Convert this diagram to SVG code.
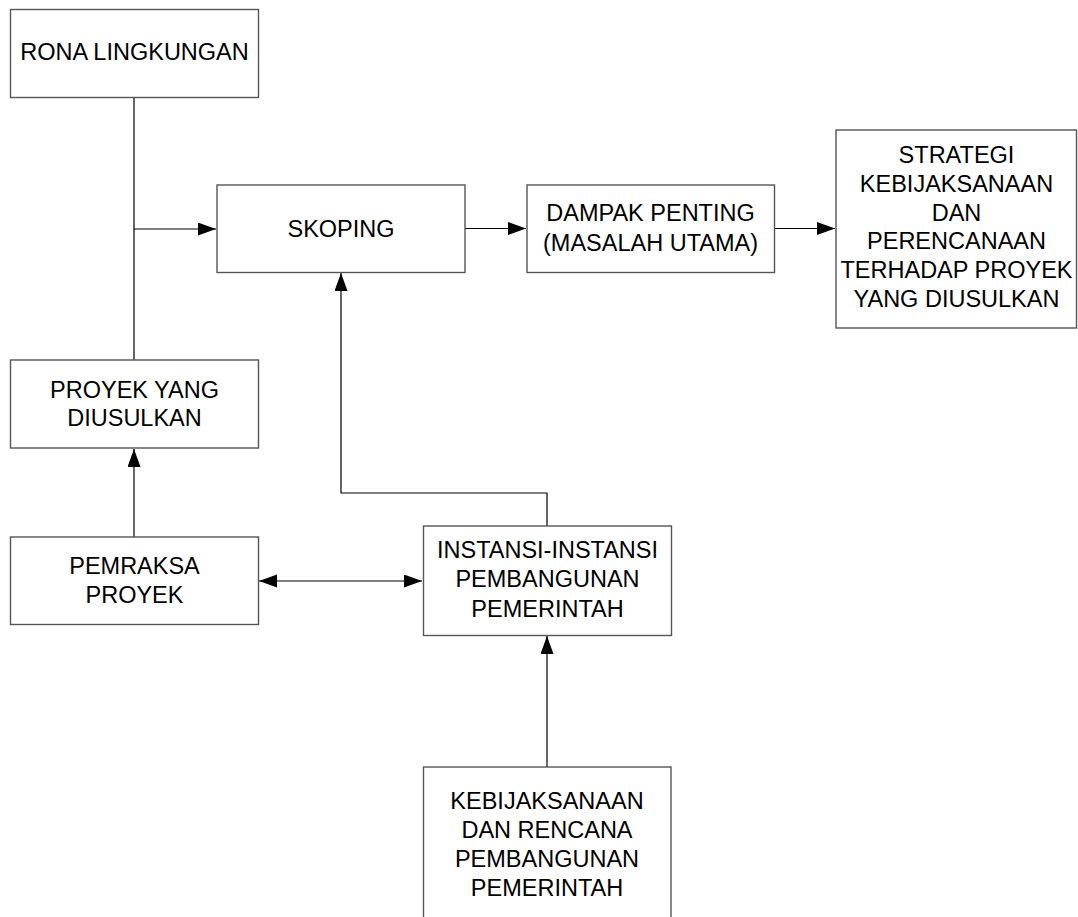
<svg xmlns="http://www.w3.org/2000/svg" width="1078" height="917" viewBox="0 0 1078 917">
<style>
.box{fill:#fff;stroke:#555;stroke-width:1.4}
.lbl{font-family:"Liberation Sans",Arial,sans-serif;font-size:23.5px;fill:#000;text-anchor:middle}
.con{fill:none;stroke:#000;stroke-width:1.2}
</style>
<defs>
<marker id="ah" markerUnits="userSpaceOnUse" markerWidth="19" markerHeight="14" refX="18" refY="6.5" orient="auto-start-reverse" viewBox="0 0 19 14">
<path d="M0,0 L18,6.5 L0,13 z" fill="#000"/>
</marker>
</defs>
<rect width="1078" height="917" fill="#fff"/>
<g id="connectors">
<path class="con" d="M134,97 V360"/>
<path class="con" d="M134,229 H216" marker-end="url(#ah)"/>
<path class="con" d="M465,228.5 H526" marker-end="url(#ah)"/>
<path class="con" d="M774,228.5 H835" marker-end="url(#ah)"/>
<path class="con" d="M134,537 V449" marker-end="url(#ah)"/>
<path class="con" d="M259,581 H422" marker-start="url(#ah)" marker-end="url(#ah)"/>
<path class="con" d="M547,526 V493 H341 V273" marker-end="url(#ah)"/>
<path class="con" d="M547,767 V636" marker-end="url(#ah)"/>
</g>
<g id="rona">
<rect class="box" x="10.5" y="9.5" width="248" height="88"/>
<text class="lbl" x="134.5" y="60">RONA LINGKUNGAN</text>
</g>
<g id="skoping">
<rect class="box" x="217" y="185" width="248" height="87.5"/>
<text class="lbl" x="341" y="237">SKOPING</text>
</g>
<g id="dampak">
<rect class="box" x="527" y="185" width="247.5" height="87.5"/>
<text class="lbl" x="650.5" y="221">DAMPAK PENTING</text>
<text class="lbl" x="650.5" y="250.5">(MASALAH UTAMA)</text>
</g>
<g id="strategi">
<rect class="box" x="836" y="130" width="240.5" height="198"/>
<text class="lbl" x="956.5" y="163">STRATEGI</text>
<text class="lbl" x="956.5" y="191.8">KEBIJAKSANAAN</text>
<text class="lbl" x="956.5" y="220.6">DAN</text>
<text class="lbl" x="956.5" y="249.4">PERENCANAAN</text>
<text class="lbl" x="956.5" y="278.2">TERHADAP PROYEK</text>
<text class="lbl" x="956.5" y="307">YANG DIUSULKAN</text>
</g>
<g id="proyek">
<rect class="box" x="10.5" y="360" width="248" height="88"/>
<text class="lbl" x="134.5" y="397.5">PROYEK YANG</text>
<text class="lbl" x="134.5" y="426">DIUSULKAN</text>
</g>
<g id="pemraksa">
<rect class="box" x="10.5" y="537" width="248" height="87.5"/>
<text class="lbl" x="134.5" y="574">PEMRAKSA</text>
<text class="lbl" x="134.5" y="602.5">PROYEK</text>
</g>
<g id="instansi">
<rect class="box" x="423.5" y="526" width="248" height="109.5"/>
<text class="lbl" x="547.5" y="557.5">INSTANSI-INSTANSI</text>
<text class="lbl" x="547.5" y="587">PEMBANGUNAN</text>
<text class="lbl" x="547.5" y="616.5">PEMERINTAH</text>
</g>
<g id="kebijaksanaan">
<rect class="box" x="423.5" y="767" width="247.5" height="160"/>
<text class="lbl" x="547" y="808.5">KEBIJAKSANAAN</text>
<text class="lbl" x="547" y="837.5">DAN RENCANA</text>
<text class="lbl" x="547" y="866.5">PEMBANGUNAN</text>
<text class="lbl" x="547" y="895.5">PEMERINTAH</text>
</g>
</svg>
